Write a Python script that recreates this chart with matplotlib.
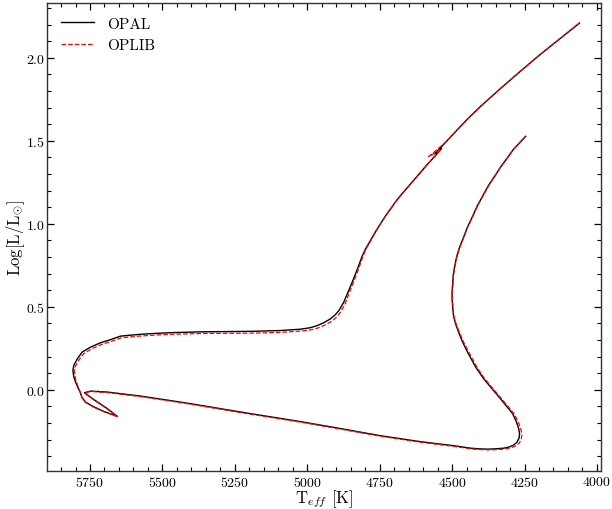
"""HR diagram: OPAL vs OPLIB evolutionary track."""
import matplotlib

matplotlib.use("Agg")
import matplotlib.pyplot as plt
from matplotlib.ticker import MultipleLocator

plt.rcParams["font.family"] = ["cmr10", "DejaVu Serif"]
plt.rcParams["mathtext.fontset"] = "cm"
plt.rcParams["axes.formatter.use_mathtext"] = True

# OPAL track (Teff [K], log L/Lsun)
opal_teff = [
    # pre-main sequence (Hayashi + Henyey)
    4246, 4267, 4288, 4310, 4333, 4353, 4374, 4393, 4412, 4429,
    4447, 4460, 4474, 4484, 4491, 4496, 4498, 4500, 4500, 4498,
    4495, 4488, 4478, 4464, 4447, 4433, 4419, 4405, 4391, 4362,
    4333, 4312, 4291, 4279, 4270, 4267, 4269, 4276, 4288, 4305,
    4322, 4350, 4377, 4408, 4436, 4495, 4609, 4747, 4885, 5023,
    5196, 5403, 5462, 5576, 5690, 5748,
    # ZAMS hook
    5769, 5741, 5724, 5690, 5655, 5703, 5738, 5766, 5778, 5783,
    # main sequence to turn-off
    5790, 5800, 5806, 5809, 5806, 5794, 5777, 5748, 5714, 5679,
    5645, 5610, 5576, 5541, 5472, 5368, 5196, 5092, 5023, 4989,
    4965, 4944, 4920, 4904, 4891, 4874, 4862, 4845, 4827, 4810,
    # red giant branch
    4799, 4781, 4764, 4747, 4730, 4712, 4695, 4678, 4643, 4609,
    4585, 4553, 4536, 4560, 4519, 4484, 4448, 4402, 4333, 4263,
    4194, 4125, 4060,
]
opal_logl = [
    1.527, 1.488, 1.449, 1.395, 1.341, 1.286, 1.232, 1.172, 1.112, 1.046,
    0.980, 0.920, 0.860, 0.803, 0.745, 0.691, 0.637, 0.589, 0.547, 0.496,
    0.445, 0.397, 0.349, 0.289, 0.228, 0.183, 0.138, 0.102, 0.066, 0.006,
    -0.054, -0.099, -0.144, -0.189, -0.234, -0.265, -0.292, -0.316, -0.334, -0.346,
    -0.352, -0.356, -0.358, -0.356, -0.352, -0.337, -0.313, -0.277, -0.234, -0.192,
    -0.144, -0.084, -0.068, -0.038, -0.014, -0.008,
    -0.018, -0.054, -0.074, -0.114, -0.161, -0.130, -0.102, -0.074, -0.045, -0.018,
    0.006, 0.048, 0.078, 0.116, 0.146, 0.186, 0.227, 0.257, 0.283, 0.302,
    0.323, 0.329, 0.334, 0.338, 0.344, 0.349, 0.352, 0.357, 0.365, 0.374,
    0.387, 0.403, 0.427, 0.451, 0.477, 0.527, 0.577, 0.647, 0.727, 0.807,
    0.848, 0.902, 0.953, 1.001, 1.047, 1.091, 1.133, 1.170, 1.241, 1.310,
    1.359, 1.419, 1.455, 1.422, 1.497, 1.563, 1.629, 1.707, 1.815, 1.921,
    2.023, 2.119, 2.210,
]

# OPLIB track
oplib_teff = [
    4246, 4267, 4288, 4310, 4333, 4353, 4373, 4392, 4411, 4428,
    4446, 4459, 4473, 4483, 4490, 4495, 4497, 4499, 4499, 4497,
    4494, 4486, 4475, 4460, 4442, 4428, 4414, 4400, 4386, 4357,
    4328, 4306, 4285, 4272, 4263, 4259, 4261, 4268, 4281, 4299,
    4317, 4347, 4375, 4407, 4435, 4494, 4609, 4747, 4885, 5023,
    5196, 5403, 5462, 5576, 5690, 5748,
    5769, 5741, 5724, 5690, 5655, 5703, 5738, 5766, 5778, 5782,
    5788, 5796, 5801, 5804, 5801, 5789, 5772, 5744, 5710, 5676,
    5642, 5607, 5574, 5539, 5470, 5366, 5194, 5089, 5019, 4984,
    4960, 4939, 4914, 4898, 4886, 4869, 4858, 4842, 4824, 4808,
    4798, 4780, 4764, 4747, 4730, 4712, 4695, 4678, 4643, 4609,
    4585, 4555, 4538, 4581, 4519, 4484, 4448, 4402, 4333, 4263,
    4194, 4125, 4060,
]
oplib_logl = [
    1.527, 1.488, 1.449, 1.395, 1.341, 1.286, 1.232, 1.172, 1.112, 1.046,
    0.980, 0.920, 0.860, 0.803, 0.745, 0.691, 0.637, 0.589, 0.547, 0.496,
    0.445, 0.396, 0.347, 0.286, 0.225, 0.180, 0.135, 0.099, 0.063, 0.003,
    -0.057, -0.102, -0.147, -0.192, -0.237, -0.268, -0.296, -0.321, -0.339, -0.351,
    -0.357, -0.361, -0.362, -0.360, -0.356, -0.341, -0.316, -0.280, -0.237, -0.195,
    -0.147, -0.087, -0.071, -0.041, -0.017, -0.010,
    -0.020, -0.056, -0.076, -0.116, -0.162, -0.132, -0.104, -0.076, -0.047, -0.020,
    0.003, 0.044, 0.073, 0.110, 0.139, 0.178, 0.217, 0.247, 0.273, 0.292,
    0.313, 0.319, 0.324, 0.328, 0.334, 0.339, 0.341, 0.346, 0.354, 0.362,
    0.374, 0.390, 0.414, 0.439, 0.466, 0.518, 0.570, 0.641, 0.722, 0.803,
    0.845, 0.900, 0.952, 1.000, 1.046, 1.090, 1.132, 1.169, 1.240, 1.309,
    1.358, 1.417, 1.450, 1.404, 1.497, 1.563, 1.629, 1.707, 1.815, 1.921,
    2.023, 2.119, 2.210,
]

fig = plt.figure(figsize=(6.12, 5.10), dpi=100)
ax = fig.add_axes([0.077, 0.075, 0.905, 0.917])

ax.plot(opal_teff, opal_logl, color="black", lw=1.0, label="OPAL")
ax.plot(oplib_teff, oplib_logl, color="red", lw=0.9, ls="--", label="OPLIB")

ax.set_xlim(5898, 3986)
ax.set_ylim(-0.488, 2.33)
ax.xaxis.set_major_locator(MultipleLocator(250))
ax.xaxis.set_minor_locator(MultipleLocator(50))
ax.yaxis.set_major_locator(MultipleLocator(0.5))
ax.yaxis.set_minor_locator(MultipleLocator(0.1))
ax.tick_params(which="both", direction="in", top=True, right=True, labelsize=10)
ax.tick_params(which="major", length=5, width=0.9)
ax.tick_params(which="minor", length=3, width=0.8)
ax.tick_params(axis="x", pad=3)
ax.tick_params(axis="y", pad=1.5)
for sp in ax.spines.values():
    sp.set_linewidth(1.0)
    sp.set_color("#333333")

ax.set_xlabel(r"T$_{eff}$ [K]", fontsize=12)
ax.set_ylabel(r"Log[L/L$_{\odot}$]", fontsize=12)
ax.xaxis.set_label_coords(0.5, -0.036)
ax.yaxis.set_label_coords(-0.037, 0.5)
ax.legend(loc="upper left", frameon=False, fontsize=11, handlelength=2.2,
          handletextpad=0.8)

fig.savefig("out.png", dpi=100)
plt.close(fig)
